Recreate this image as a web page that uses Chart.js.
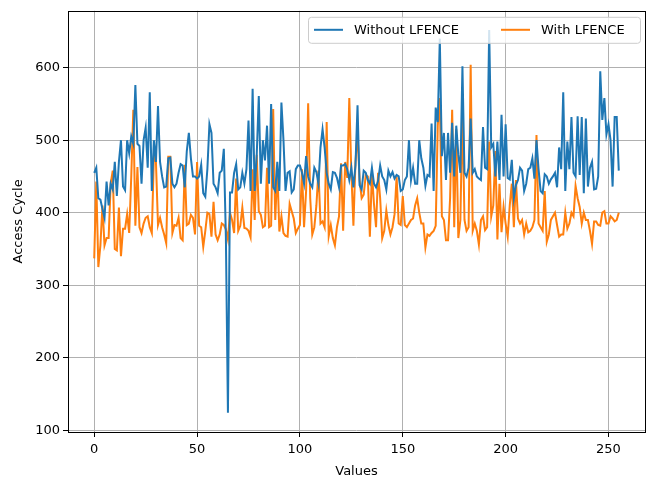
<!DOCTYPE html>
<html>
<head>
<meta charset="utf-8">
<script src="https://cdn.jsdelivr.net/npm/chart.js@4/dist/chart.umd.min.js"></script>
<style>
  html, body { margin: 0; padding: 0; background: #fff; }
  #wrap { width: 649px; height: 477px; }
</style>
</head>
<body>
<div id="wrap"><canvas id="chart"></canvas></div>
<script>
// access cycles per probed value (0..255)
const withoutLfence = [
  455, 462, 420, 418, 405, 393, 443, 410, 440, 432, 470, 423, 470, 500, 436, 431,
  500, 482, 505, 495, 576, 495, 492, 440, 500, 517, 462, 566, 430, 500, 470, 547,
  470, 450, 435, 436, 475, 476, 440, 435, 440, 455, 467, 465, 435, 485, 510, 475,
  450, 450, 447, 450, 466, 427, 422, 460, 522, 510, 440, 435, 427, 455, 458, 488,
  367, 124, 428, 428, 455, 467, 432, 435, 455, 440, 460, 527, 430, 571, 430, 480,
  561, 440, 500, 472, 520, 440, 550, 435, 430, 470, 430, 552, 500, 430, 455, 457,
  428, 432, 460, 465, 465, 455, 440, 478, 450, 440, 435, 462, 456, 440, 490, 515,
  490, 455, 440, 432, 456, 455, 448, 435, 465, 465, 467, 460, 445, 462, 435, 465,
  548, 438, 432, 458, 455, 445, 440, 462, 440, 435, 444, 465, 450, 445, 432, 458,
  450, 456, 447, 452, 450, 430, 432, 445, 450, 500, 445, 462, 440, 440, 500, 475,
  462, 437, 452, 450, 523, 430, 545, 525, 640, 478, 510, 445, 510, 455, 524, 450,
  520, 480, 455, 602, 455, 450, 462, 530, 455, 460, 450, 447, 445, 518, 462, 460,
  652, 490, 495, 450, 498, 445, 535, 450, 522, 448, 446, 473, 420, 438, 445, 462,
  458, 430, 440, 460, 462, 475, 447, 500, 460, 430, 427, 453, 450, 440, 446, 450,
  455, 435, 490, 460, 566, 430, 498, 460, 532, 455, 450, 533, 452, 532, 427, 530,
  436, 462, 470, 432, 433, 450, 595, 528, 558, 508, 522, 500, 436, 532, 532, 458
];

const withLfence = [
  337, 443, 325, 355, 410, 355, 365, 365, 440, 458, 350, 348, 407, 340, 378, 378,
  398, 372, 450, 542, 382, 463, 380, 372, 385, 393, 395, 380, 372, 478, 470, 383,
  393, 380, 370, 358, 477, 477, 372, 383, 382, 393, 365, 362, 466, 383, 385, 397,
  393, 370, 470, 382, 380, 353, 375, 400, 398, 367, 415, 370, 362, 370, 385, 383,
  377, 363, 400, 390, 372, 447, 375, 382, 407, 379, 378, 375, 366, 460, 390, 480,
  402, 397, 380, 382, 462, 380, 382, 543, 390, 460, 374, 395, 372, 368, 367, 412,
  402, 392, 372, 378, 383, 460, 380, 430, 551, 420, 370, 380, 410, 458, 385, 388,
  380, 525, 368, 383, 365, 355, 380, 395, 468, 375, 470, 448, 558, 455, 382, 470,
  510, 445, 420, 425, 452, 450, 367, 455, 412, 380, 455, 420, 365, 375, 403, 383,
  370, 380, 398, 450, 385, 383, 423, 383, 380, 385, 390, 392, 410, 420, 400, 385,
  385, 352, 370, 368, 372, 375, 382, 520, 558, 395, 390, 362, 362, 420, 542, 380,
  515, 365, 390, 543, 390, 375, 380, 604, 375, 385, 375, 356, 390, 395, 376, 380,
  498, 395, 410, 485, 363, 440, 373, 408, 385, 367, 410, 440, 380, 445, 392, 385,
  390, 370, 385, 373, 375, 380, 390, 507, 385, 380, 375, 430, 360, 370, 390, 395,
  400, 383, 367, 370, 370, 400, 378, 385, 400, 395, 437, 420, 408, 385, 400, 390,
  390, 375, 357, 388, 388, 383, 382, 400, 402, 385, 385, 395, 392, 388, 390, 400
];

const seriesLabels = ['Without LFENCE', 'With LFENCE'];
const xTicks = [0, 50, 100, 150, 200, 250];
const yTicks = [100, 200, 300, 400, 500, 600];

const toPoints = arr => arr.map((v, i) => ({ x: i, y: v }));

const font = { family: 'DejaVu Sans', size: 13 };

// axes box on all four sides plus the legend inside the top right corner
const framePlugin = {
  id: 'frame',
  afterDraw(chart) {
    const { ctx, chartArea: a } = chart;
    ctx.save();
    ctx.strokeStyle = '#000';
    ctx.lineWidth = 1;
    ctx.strokeRect(Math.round(a.left) + 0.5, Math.round(a.top) + 0.5,
      Math.round(a.right - a.left), Math.round(a.bottom - a.top));

    const bx = a.right - 337, by = a.top + 6, bw = 332, bh = 26;
    ctx.fillStyle = 'rgba(255,255,255,0.8)';
    ctx.strokeStyle = '#cccccc';
    ctx.beginPath();
    ctx.roundRect(bx + 0.5, by + 0.5, bw, bh, 3);
    ctx.fill();
    ctx.stroke();

    ctx.font = '13px "DejaVu Sans"';
    ctx.textBaseline = 'middle';
    const offsets = [0, 187];
    chart.data.datasets.forEach((ds, i) => {
      const x0 = bx + 6 + offsets[i];
      const y0 = by + bh / 2;
      ctx.strokeStyle = ds.borderColor;
      ctx.lineWidth = 2;
      ctx.beginPath();
      ctx.moveTo(x0, y0);
      ctx.lineTo(x0 + 29, y0);
      ctx.stroke();
      ctx.fillStyle = '#000';
      ctx.fillText(ds.label, x0 + 40, y0 + 1);
    });
    ctx.restore();
  }
};

new Chart(document.getElementById('chart'), {
  type: 'line',
  data: {
    datasets: [
      {
        label: seriesLabels[0],
        data: toPoints(withoutLfence),
        borderColor: '#1f77b4',
        borderWidth: 2,
        pointRadius: 0,
        tension: 0
      },
      {
        label: seriesLabels[1],
        data: toPoints(withLfence),
        borderColor: '#ff7f0e',
        borderWidth: 2,
        pointRadius: 0,
        tension: 0
      }
    ]
  },
  options: {
    responsive: true,
    maintainAspectRatio: false,
    animation: false,
    layout: { padding: { top: 10, right: 4, left: 0, bottom: 0 } },
    plugins: {
      legend: { display: false },
      tooltip: { enabled: false }
    },
    scales: {
      x: {
        type: 'linear',
        min: -12.75,
        max: 267.75,
        afterBuildTicks: s => { s.ticks = xTicks.map(v => ({ value: v })); },
        afterFit: s => { s.height = 45; },
        ticks: { color: '#000', font: font, padding: 5, maxRotation: 0 },
        grid: { color: '#b0b0b0', lineWidth: 1, tickLength: 5, tickColor: '#000' },
        border: { display: false },
        title: { display: true, text: 'Values', color: '#000', font: font, padding: { top: -2, bottom: -2 } }
      },
      y: {
        type: 'linear',
        min: 97.6,
        max: 678.4,
        afterBuildTicks: s => { s.ticks = yTicks.map(v => ({ value: v })); },
        afterFit: s => { s.width = 68; },
        ticks: { color: '#000', font: font, padding: 3 },
        grid: { color: '#b0b0b0', lineWidth: 1, tickLength: 5, tickColor: '#000' },
        border: { display: false },
        title: { display: true, text: 'Access Cycle', color: '#000', font: font, padding: { top: 11, bottom: 11 } }
      }
    }
  },
  plugins: [framePlugin]
});
</script>
</body>
</html>
